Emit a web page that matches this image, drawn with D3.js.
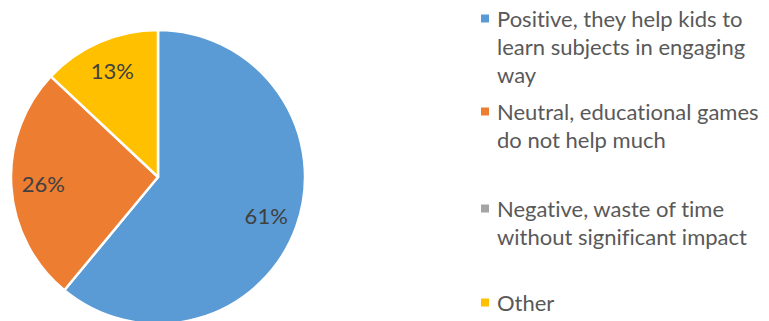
<!DOCTYPE html>
<html>
<head>
<meta charset="utf-8">
<script src="https://cdn.jsdelivr.net/npm/d3@7"></script>
<style>
  html, body { margin: 0; padding: 0; background: #ffffff; }
  svg { display: block; }
  text { font-variant-ligatures: none; font-feature-settings: "liga" 0; }
</style>
</head>
<body>
<div id="chart"></div>
<script>
// Survey answers: opinion on educational games
const categories = [
  "Positive, they help kids to learn subjects in engaging way",
  "Neutral, educational games do not help much",
  "Negative, waste of time without significant impact",
  "Other"
];
const values = [61, 26, 0, 13];
const colors = ["#5B9BD5", "#ED7D31", "#A5A5A5", "#FFC000"];
// Legend text wrapped the way it is displayed
const legendLines = [
  ["Positive, they help kids to", "learn subjects in engaging", "way"],
  ["Neutral, educational games", "do not help much"],
  ["Negative, waste of time", "without significant impact"],
  ["Other"]
];

const width = 769, height = 321;
const cx = 158, cy = 177, radius = 147;
const fontFamily = "Lato, 'Open Sans', sans-serif";

const svg = d3.select("#chart").append("svg")
  .attr("width", width)
  .attr("height", height);

const data = categories.map((c, i) => ({ category: c, value: values[i], color: colors[i] }));

const pie = d3.pie().sort(null).value(d => d.value);
const arcs = pie(data);

const arc = d3.arc().innerRadius(0).outerRadius(radius);
const labelArc = d3.arc().innerRadius(115).outerRadius(115);

const g = svg.append("g").attr("transform", `translate(${cx},${cy})`);

g.selectAll("path.slice")
  .data(arcs.filter(d => d.data.value > 0))
  .join("path")
  .attr("class", "slice")
  .attr("d", arc)
  .attr("fill", d => d.data.color)
  .attr("stroke", "#ffffff")
  .attr("stroke-width", 2.5)
  .attr("stroke-linejoin", "round");

const fmt = d3.format(".0%");
g.selectAll("text.pct")
  .data(arcs.filter(d => d.data.value > 0))
  .join("text")
  .attr("class", "pct")
  .attr("transform", d => `translate(${labelArc.centroid(d)})`)
  .attr("text-anchor", "middle")
  .attr("dy", "0.35em")
  .attr("font-family", fontFamily)
  .attr("font-size", 22)
  .attr("fill", "#404040")
  .text(d => fmt(d.data.value / d3.sum(values)));

// Legend
const legendX = 481, textX = 497, lineH = 28;
const firstBaselines = [27, 120, 217, 311];

const legend = svg.append("g").attr("class", "legend");
const items = legend.selectAll("g.item")
  .data(data)
  .join("g")
  .attr("class", "item");

items.append("rect")
  .attr("x", legendX)
  .attr("y", (d, i) => firstBaselines[i] - 12.5)
  .attr("width", 8)
  .attr("height", 8)
  .attr("fill", d => d.color);

items.append("text")
  .attr("x", textX)
  .attr("y", (d, i) => firstBaselines[i])
  .attr("font-family", fontFamily)
  .attr("font-size", 22)
  .attr("fill", "#595959")
  .each(function(d, i) {
    const t = d3.select(this);
    legendLines[i].forEach((line, j) => {
      t.append("tspan")
        .attr("x", textX)
        .attr("y", firstBaselines[i] + j * lineH)
        .text(line);
    });
  });
</script>
</body>
</html>
